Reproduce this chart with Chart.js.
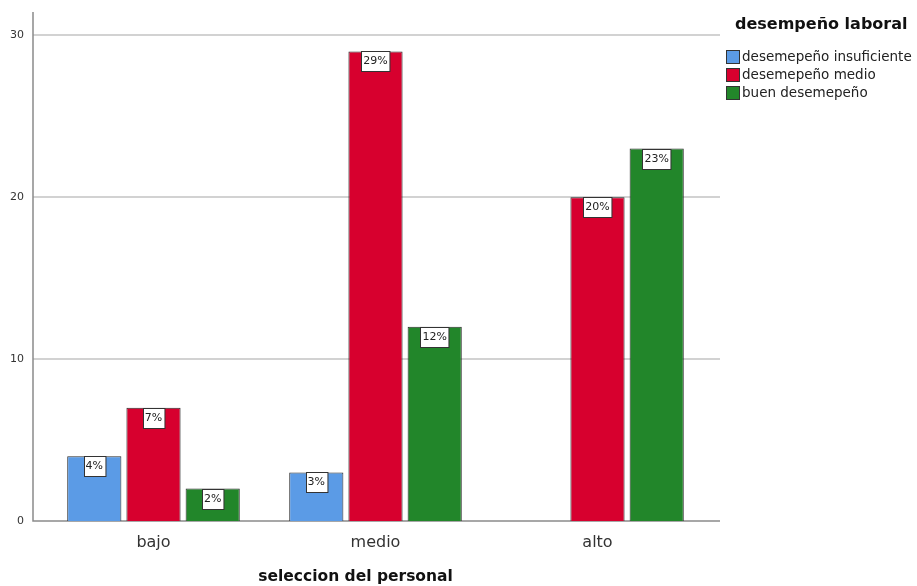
<!DOCTYPE html>
<html>
<head>
<meta charset="utf-8">
<script src="https://cdn.jsdelivr.net/npm/chart.js@4"></script>
<style>
  html, body { margin: 0; padding: 0; background: #fff; }
  #wrap { width: 917px; height: 586px; }
</style>
</head>
<body>
<div id="wrap"><canvas id="chart" width="917" height="586"></canvas></div>
<script>
const categories = ['bajo', 'medio', 'alto'];
const seriesNames = ['desemepeño insuficiente', 'desemepeño medio', 'buen desemepeño'];
const insuficiente = [4, 3, null];
const medio = [7, 29, 20];
const bueno = [2, 12, 23];
const yTicks = [0, 10, 20, 30];
const colors = ['#5b9be6', '#d7002e', '#22862a'];
const legendTitle = 'desempeño laboral';
const xTitle = 'seleccion del personal';

const FONT = '"DejaVu Sans", sans-serif';
const total = [...insuficiente, ...medio, ...bueno].reduce((a, b) => a + (b || 0), 0);

// gridlines + axis lines, a bit wider than the chart area like the original
const axesPlugin = {
  id: 'axesPlugin',
  beforeDatasetsDraw(chart) {
    const { ctx, chartArea, scales } = chart;
    const left = chartArea.left - 9.5;
    const right = chartArea.right + 11.5;
    ctx.save();
    ctx.strokeStyle = '#d2d2d2';
    ctx.lineWidth = 2;
    yTicks.filter(v => v > 0).forEach(v => {
      const y = Math.round(scales.y.getPixelForValue(v));
      ctx.beginPath();
      ctx.moveTo(left, y);
      ctx.lineTo(right, y);
      ctx.stroke();
    });
    ctx.strokeStyle = '#8a8a8a';
    ctx.lineWidth = 1.5;
    ctx.beginPath();
    ctx.moveTo(left, chartArea.top + 1);
    ctx.lineTo(left, chartArea.bottom);
    ctx.lineTo(right, chartArea.bottom);
    ctx.stroke();
    ctx.restore();
  },
  afterDatasetsDraw(chart) {
    const { ctx } = chart;
    ctx.save();
    ctx.font = '11px ' + FONT;
    ctx.textAlign = 'center';
    ctx.textBaseline = 'middle';
    chart.data.datasets.forEach((ds, i) => {
      chart.getDatasetMeta(i).data.forEach((bar, j) => {
        const v = ds.data[j];
        if (v == null) return;
        const txt = Math.round(v / total * 100) + '%';
        const w = ctx.measureText(txt).width + 4;
        const h = 20;
        const x = Math.round(bar.x - w / 2) + 0.5;
        const y = Math.round(bar.y) + 0.5;
        ctx.fillStyle = '#fff';
        ctx.fillRect(x, y, w, h);
        ctx.strokeStyle = '#333';
        ctx.lineWidth = 1;
        ctx.strokeRect(x, y, w, h);
        ctx.fillStyle = '#222';
        ctx.fillText(txt, bar.x, y + h / 2);
      });
    });
    ctx.restore();
  },
  afterDraw(chart) {
    const { ctx, chartArea } = chart;
    ctx.save();
    // x axis title
    ctx.font = 'bold 15.5px ' + FONT;
    ctx.fillStyle = '#111';
    ctx.textAlign = 'center';
    ctx.textBaseline = 'middle';
    ctx.fillText(xTitle, chartArea.left + (chartArea.right - chartArea.left) * 0.47, 577);
    // legend
    const lx = chartArea.right + 17.5;
    ctx.textAlign = 'left';
    ctx.font = 'bold 16px ' + FONT;
    ctx.fillText(legendTitle, lx + 9, 25);
    ctx.font = '13.5px ' + FONT;
    chart.data.datasets.forEach((ds, i) => {
      const cy = 57 + i * 18;
      ctx.fillStyle = ds.backgroundColor;
      ctx.fillRect(lx + 0.5, cy - 6.5, 13, 13);
      ctx.strokeStyle = '#333';
      ctx.lineWidth = 1;
      ctx.strokeRect(lx + 0.5, cy - 6.5, 13, 13);
      ctx.fillStyle = '#222';
      ctx.fillText(ds.label, lx + 16, cy);
    });
    ctx.restore();
  }
};

const datasets = [insuficiente, medio, bueno].map((d, i) => ({
  label: seriesNames[i],
  data: d,
  backgroundColor: colors[i],
  borderColor: '#2a2a2a',
  borderWidth: 1,
  categoryPercentage: 0.8,
  barPercentage: 0.915,
}));

new Chart(document.getElementById('chart').getContext('2d'), {
  type: 'bar',
  data: { labels: categories, datasets: datasets },
  options: {
    responsive: false,
    animation: false,
    events: [],
    layout: { padding: { top: 11, right: 208.5, left: 0, bottom: 0 } },
    plugins: { legend: { display: false }, tooltip: { enabled: false } },
    scales: {
      x: {
        grid: { display: false, drawTicks: false },
        border: { display: false },
        ticks: { font: { family: FONT, size: 16 }, color: '#333', padding: 12 },
        afterFit(scale) { scale.height = 65; }
      },
      y: {
        min: 0,
        max: 31.5,
        afterBuildTicks(scale) { scale.ticks = yTicks.map(v => ({ value: v })); },
        grid: { display: false, drawTicks: false },
        border: { display: false },
        ticks: { font: { family: FONT, size: 11 }, color: '#333', padding: 18.5 },
        afterFit(scale) {
          scale.width = 42.5;
          scale.paddingTop = 0;
          scale.paddingBottom = 0;
        }
      }
    }
  },
  plugins: [axesPlugin]
});
</script>
</body>
</html>
